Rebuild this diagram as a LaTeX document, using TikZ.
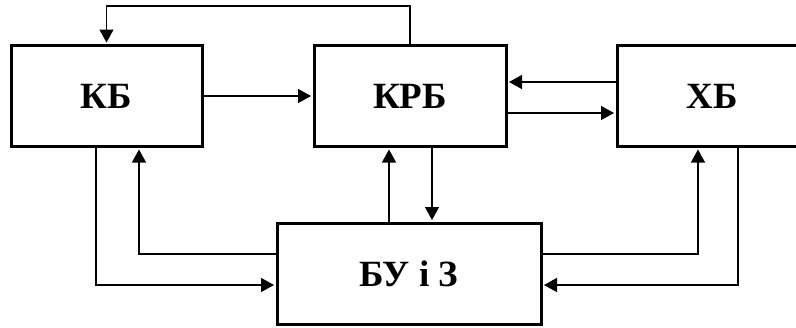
\documentclass[tikz,border=0pt]{standalone}
\usepackage{fontspec}
\setmainfont{Liberation Serif}
\usetikzlibrary{arrows.meta,calc}
\begin{document}
\begin{tikzpicture}[x=1pt,y=-1pt,
  block/.style={draw, line width=3pt, inner sep=0pt, minimum height=101pt,
    font=\fontsize{37}{40}\selectfont\bfseries},
  link/.style={line width=1.4pt, shorten >=1.5pt,
    -{Triangle[length=13pt,width=14pt]}}]
\useasboundingbox (0,0) rectangle (796,327);
% blocks
\node[block, minimum width=191pt] (kb)  at (106.5,96) {КБ};
\node[block, minimum width=192pt] (krb) at (410,96)   {КРБ};
\node[block, minimum width=190pt] (xb)  at (712,96)   {ХБ};
\node[block, minimum width=264pt] (bu)  at (409,273.5) {БУ і З};
% links between the upper blocks
\draw[link] (krb.north) -- ++(0,-38) -| (kb.north);
\draw[link] (kb.east) -- (krb.west);
\draw[link] ($(xb.west)+(0,-14)$) -- ($(krb.east)+(0,-14)$);
\draw[link] ($(krb.east)+(0,17)$) -- ($(xb.west)+(0,17)$);
% links to and from the control block
\draw[link] ($(kb.south)+(-10.5,0)$) |- ($(bu.west)+(0,11.5)$);
\draw[link] ($(bu.west)+(0,-19.5)$) -| ($(kb.south)+(32.5,0)$);
\draw[link] ($(bu.north)+(-20,0)$) -- ($(krb.south)+(-21,0)$);
\draw[link] ($(krb.south)+(22,0)$) -- ($(bu.north)+(23,0)$);
\draw[link] ($(bu.east)+(0,-19.5)$) -| ($(xb.south)+(-14,0)$);
\draw[link] ($(xb.south)+(26,0)$) |- ($(bu.east)+(0,11.5)$);
\end{tikzpicture}
\end{document}
